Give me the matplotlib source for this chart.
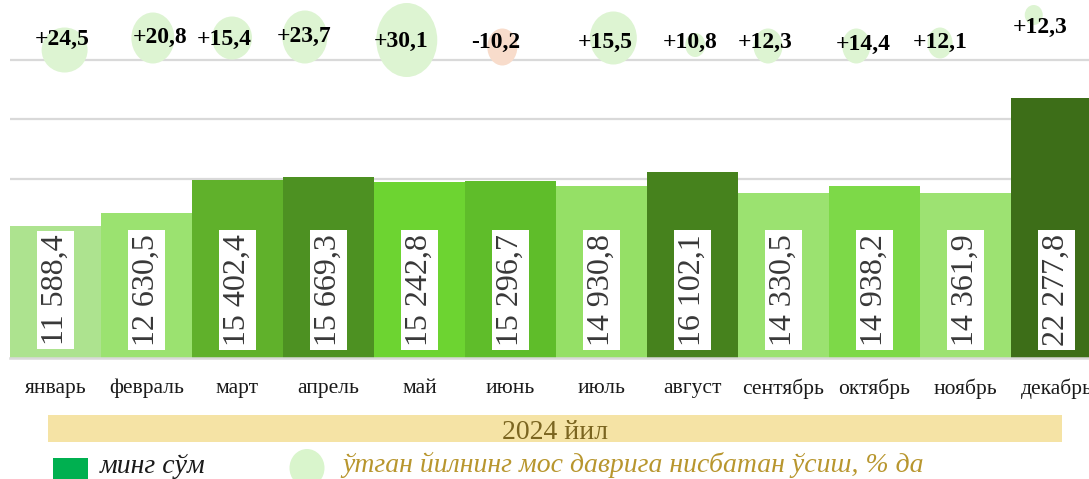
import matplotlib
matplotlib.use('Agg')
import matplotlib.pyplot as plt
from matplotlib.patches import Ellipse, Rectangle
import numpy as np

plt.rcParams['font.family'] = ['Liberation Serif', 'DejaVu Serif']

# data
months = ['январь', 'февраль', 'март', 'апрель', 'май', 'июнь',
          'июль', 'август', 'сентябрь', 'октябрь', 'ноябрь', 'декабрь']
values = [11588.4, 12630.5, 15402.4, 15669.3, 15242.8, 15296.7,
          14930.8, 16102.1, 14330.5, 14938.2, 14361.9, 22277.8]
growth = [24.5, 20.8, 15.4, 23.7, 30.1, -10.2,
          15.5, 10.8, 12.3, 14.4, 12.1, 12.3]
year_label = '2024 йил'
unit_label = 'минг сўм'
growth_label = 'ўтган йилнинг мос даврига нисбатан ўсиш, % да'

# styles
bar_colors = ['#ade38f', '#9be270', '#60b12b', '#4d9122', '#6dd431', '#5fbd2a',
              '#95e066', '#46821d', '#9be270', '#7dd948', '#9de272', '#3d6e18']

# bubble layout (secondary axis, offsets from bar centres)
bubble_dx = [0.10, 0.07, -0.06, -0.26, -0.14, -0.09, 0.13, 0.03, -0.17, -0.20, -0.28, -0.25]
bubble_y = [308, 320, 320, 321, 318, 311, 320, 313, 312, 312, 315, 343]
bubble_w = [46, 43, 40, 45, 61, 30, 47, 20, 29, 28, 25, 18]
bubble_h = [45, 51, 43, 53, 74, 37, 53, 24, 35, 35, 31, 20]
label_dx = [0.07, 0.15, -0.15, -0.27, -0.20, -0.16, 0.04, -0.03, -0.20, -0.12, -0.28, -0.18]
label_y = [313, 315, 313, 316, 311, 310, 310, 310, 310, 308, 310, 325]

W, H = 1089, 479
BAR_PX = 91.0
fig = plt.figure(figsize=(W / 100, H / 100), dpi=100)
ax = fig.add_axes([10 / W, 1 - 358 / H, 1079 / W, 358 / H])
ax2 = ax.twinx()

x = np.arange(len(months))
ax.bar(x, values, width=1.0, color=bar_colors, zorder=2)
ax.set_xlim(-0.5, -0.5 + 1079 / BAR_PX)
ax.set_ylim(500, 30500)
ax.set_yticks(np.arange(5500, 30500, 5000))
ax.yaxis.grid(True, color='#d9d9d9', lw=1.6)
ax.set_axisbelow(True)
ax.axhline(500, color='#d9d9d9', lw=1.8, zorder=3, clip_on=False)
for s in ax.spines.values():
    s.set_visible(False)
ax.tick_params(axis='y', left=False, right=False, labelleft=False, labelright=False)
ax.set_xticks(x)
ax.set_xticklabels(months, fontsize=15.5, color='#1a1a1a')
ax.tick_params(axis='x', length=0, pad=15)

# value labels inside bars
for xi, v in zip(x, values):
    lab = f'{v:,.1f}'.replace(',', ' ').replace('.', ',')
    ax.text(xi, 6200, lab, rotation=90, ha='center', va='center',
            fontsize=23, color='#383838', zorder=4,
            bbox=dict(boxstyle='square,pad=0.12', fc='white', ec='none'))

# growth bubbles
ax2.set_ylim(0, 358)
ax2.axis('off')
for i, g in enumerate(growth):
    col = '#ddf4d2' if g >= 0 else '#f8dccb'
    e = Ellipse((x[i] + bubble_dx[i], bubble_y[i]), bubble_w[i] / BAR_PX, bubble_h[i],
                fc=col, ec='none', clip_on=False, zorder=2)
    ax2.add_patch(e)
    lab = f'{g:+.1f}'.replace('.', ',')
    ax2.text(x[i] + label_dx[i], label_y[i], lab, ha='center', va='baseline',
             fontsize=17, weight='bold', color='black', zorder=5, clip_on=False)

# year band
fig.add_artist(Rectangle((48 / W, 1 - 442 / H), (1062 - 48) / W, 27 / H,
                         transform=fig.transFigure, fc='#f5e3a5', ec='none'))
fig.text(555 / W, 1 - 439 / H, year_label, ha='center', va='baseline',
         fontsize=20, color='#7b6520')

# legend
fig.add_artist(Rectangle((53 / W, 1 - 481 / H), 35 / W, 23 / H,
                         transform=fig.transFigure, fc='#00b050', ec='none'))
fig.text(100 / W, 1 - 473 / H, unit_label, ha='left', va='baseline',
         fontsize=20, style='italic', color='#1a1a1a')
fig.add_artist(Ellipse((307 / W, 1 - 468 / H), 35 / W, 38 / H,
                       transform=fig.transFigure, fc='#d9f5cc', ec='none'))
fig.text(342 / W, 1 - 472 / H, growth_label, ha='left', va='baseline',
         fontsize=20, style='italic', color='#b8962e')

fig.savefig('out.png', dpi=100)
